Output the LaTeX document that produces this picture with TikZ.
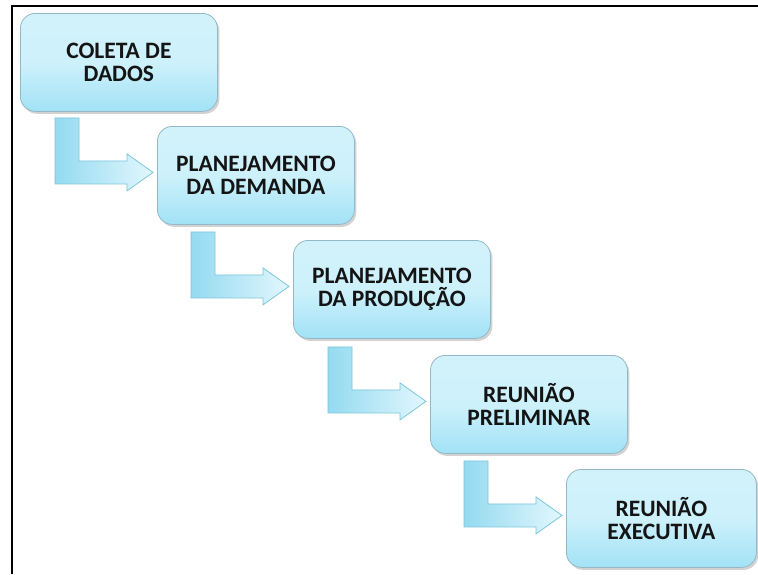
\documentclass[tikz,border=0pt]{standalone}
\usepackage{fontspec}
\setmainfont{Carlito}
\usetikzlibrary{calc,shadows}
\definecolor{boxtop}{HTML}{D2F2FB}
\definecolor{boxmid}{HTML}{CDF1FB}
\definecolor{boxbot}{HTML}{A2E2F6}
\definecolor{boxline}{HTML}{94B9C6}
\definecolor{arrleft}{HTML}{94DAF0}
\definecolor{arrright}{HTML}{E2F7FD}
\definecolor{arrline}{HTML}{7CC6DC}
\definecolor{txt}{HTML}{141414}
\begin{document}
\begin{tikzpicture}[x=1pt,y=-1pt,
  stagebox/.style={draw=boxline, line width=0.8pt, rounded corners=15pt,
    top color=boxtop, bottom color=boxbot, middle color=boxmid,
    minimum width=197pt, minimum height=98pt, inner sep=0pt,
    anchor=north west, align=center, text=txt,
    font=\fontsize{23.5}{22.5}\selectfont\bfseries,
    drop shadow={opacity=0.35, shadow xshift=2pt, shadow yshift=-2.5pt}},
  bentarrow/.style={draw=arrline, line width=0.8pt, left color=arrleft, right color=arrright, line join=miter}
]
\useasboundingbox (0,0) rectangle (758,574);
\fill[white] (0,0) rectangle (758,574);
\draw[line width=2pt] (12,574) -- (12,6) -- (758,6);

\node[stagebox] (b1) at (20,13) {COLETA DE\\DADOS};
\node[stagebox] (b2) at (157,126) {PLANEJAMENTO\\DA DEMANDA};
\node[stagebox] (b3) at (293,240) {PLANEJAMENTO\\DA PRODUÇÃO};
\node[stagebox] (b4) at (430,355) {REUNIÃO\\PRELIMINAR};
\node[stagebox, minimum width=190pt] (b5) at (566,469) {REUNIÃO\\EXECUTIVA};

\foreach \t in {b2,b3,b4,b5}{
  \draw[bentarrow, shift={($(\t.west)+(-4,-3)$)}]
    (-98,-54.5) -- (-74,-54.5) -- (-74,-11.5) -- (-26,-11.5) -- (-26,-18.5)
    -- (0,0) -- (-26,18.5) -- (-26,11.5) -- (-98,11.5) -- cycle;
}
\end{tikzpicture}
\end{document}
